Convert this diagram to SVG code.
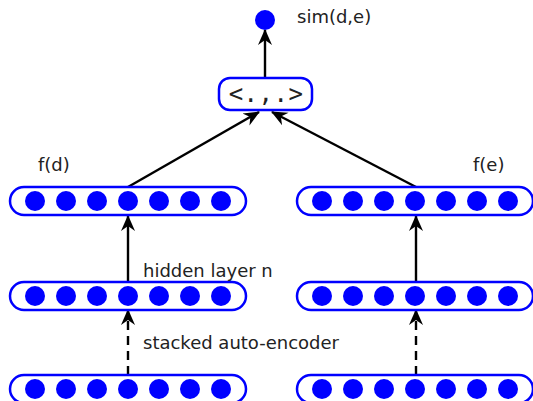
<svg xmlns="http://www.w3.org/2000/svg" width="533" height="401" viewBox="0 0 533 401">
  <style>
    .bar { fill: #fff; stroke: #0000ff; stroke-width: 2.5; }
    .unit { fill: #0000ff; }
    .lbl { font-family: "DejaVu Sans", sans-serif; font-size: 18px; fill: #222; }
    .edge { stroke: #000; stroke-width: 2.4; fill: none; }
    .dash { stroke-dasharray: 9 6; }
  </style>
  <defs>
    <marker id="arr" viewBox="0 0 16 16" refX="15" refY="8" markerWidth="16" markerHeight="16" orient="auto" markerUnits="userSpaceOnUse">
      <path d="M0,1 L16,8 L0,15 L5,8 z" fill="#000"/>
    </marker>
    <g id="row">
      <rect class="bar" x="0" y="0" width="236" height="28" rx="14"/>
      <circle class="unit" cx="25" cy="14" r="10"/>
      <circle class="unit" cx="56" cy="14" r="10"/>
      <circle class="unit" cx="87" cy="14" r="10"/>
      <circle class="unit" cx="118" cy="14" r="10"/>
      <circle class="unit" cx="149" cy="14" r="10"/>
      <circle class="unit" cx="180" cy="14" r="10"/>
      <circle class="unit" cx="211" cy="14" r="10"/>
    </g>
  </defs>

  <g id="connectors">
    <line class="edge" x1="265" y1="78" x2="265" y2="30" marker-end="url(#arr)"/>
    <line class="edge" x1="128" y1="187" x2="259" y2="112" marker-end="url(#arr)"/>
    <line class="edge" x1="416" y1="187" x2="272" y2="112" marker-end="url(#arr)"/>
    <line class="edge" x1="128" y1="282" x2="128" y2="216" marker-end="url(#arr)"/>
    <line class="edge" x1="416" y1="282" x2="416" y2="216" marker-end="url(#arr)"/>
    <line class="edge dash" x1="128" y1="375" x2="128" y2="310" marker-end="url(#arr)"/>
    <line class="edge dash" x1="416" y1="375" x2="416" y2="310" marker-end="url(#arr)"/>
  </g>

  <g id="sim">
    <circle class="unit" cx="265" cy="20" r="10"/>
    <text class="lbl" x="297" y="23">sim(d,e)</text>
  </g>

  <g id="dot">
    <rect class="bar" x="219" y="78" width="93" height="32" rx="11"/>
    <text x="266" y="102" text-anchor="middle" font-family="DejaVu Sans Mono, monospace" font-size="24" letter-spacing="0.5" fill="#222">&lt;.,.&gt;</text>
  </g>

  <g id="fd">
    <use href="#row" x="10" y="187"/>
    <text class="lbl" x="38" y="171">f(d)</text>
  </g>
  <g id="fe">
    <use href="#row" x="297" y="187"/>
    <text class="lbl" x="473" y="171">f(e)</text>
  </g>

  <g id="hidden-d">
    <use href="#row" x="10" y="282"/>
    <text class="lbl" x="143" y="277">hidden layer n</text>
  </g>
  <g id="hidden-e">
    <use href="#row" x="297" y="282"/>
  </g>

  <g id="input-d">
    <use href="#row" x="10" y="375"/>
    <text class="lbl" x="143" y="349">stacked auto-encoder</text>
  </g>
  <g id="input-e">
    <use href="#row" x="297" y="375"/>
  </g>
</svg>
